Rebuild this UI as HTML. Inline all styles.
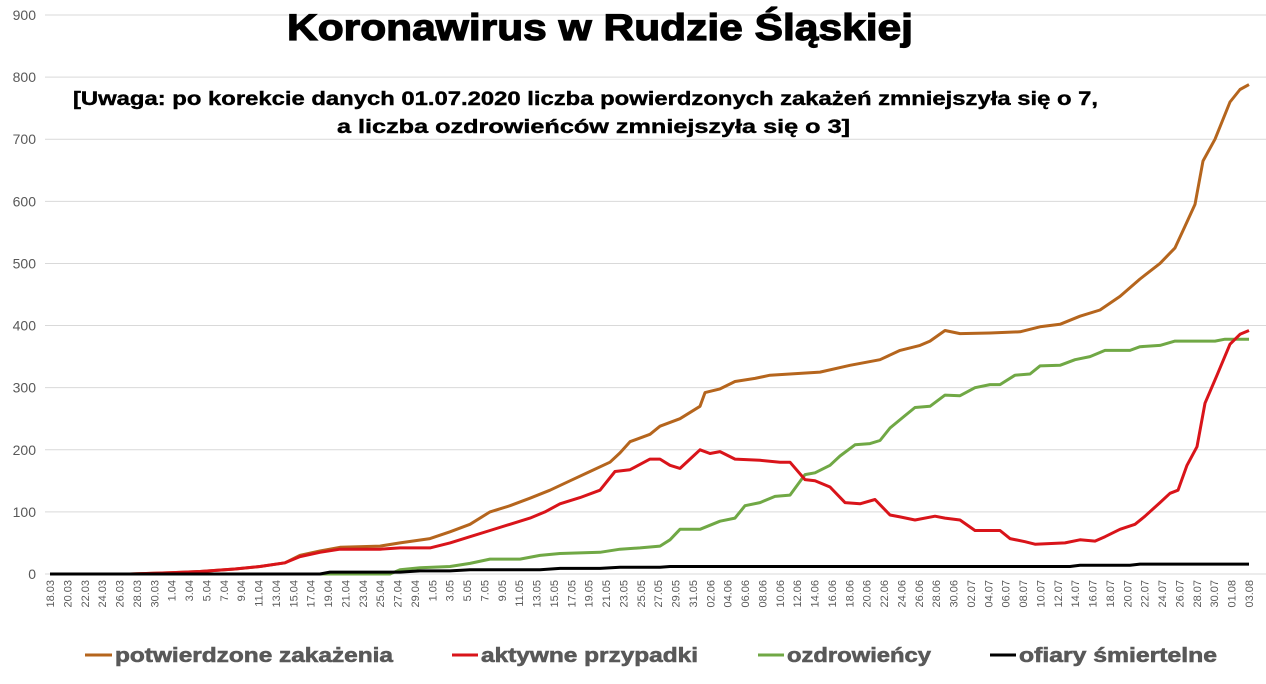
<!DOCTYPE html>
<html><head><meta charset="utf-8"><style>
body{margin:0;background:#fff;width:1266px;height:679px;overflow:hidden;font-family:"Liberation Sans",sans-serif}
</style></head><body>
<svg id="s" width="1266" height="679" xmlns="http://www.w3.org/2000/svg" font-family="Liberation Sans, sans-serif">
<g id="grid" stroke="#d9d9d9" stroke-width="1"></g>
<g id="ylab" fill="#595959" font-size="14" text-anchor="end"></g>
<g id="xlab" fill="#595959" font-size="11"></g>
<g id="lines" fill="none" stroke-width="3" stroke-linejoin="round"></g>
<text x="287" y="40" font-size="37" font-weight="bold" fill="#000" stroke="#000" stroke-width="1.2" textLength="626" lengthAdjust="spacingAndGlyphs">Koronawirus w Rudzie Śląskiej</text>
<text x="73" y="105" font-size="19" font-weight="bold" fill="#000" stroke="#000" stroke-width="0.4" textLength="1025" lengthAdjust="spacingAndGlyphs">[Uwaga: po korekcie danych 01.07.2020 liczba powierdzonych zakażeń zmniejszyła się o 7,</text>
<text x="337" y="133" font-size="19" font-weight="bold" fill="#000" stroke="#000" stroke-width="0.4" textLength="513" lengthAdjust="spacingAndGlyphs">a liczba ozdrowieńców zmniejszyła się o 3]</text>
<g font-size="20" font-weight="bold" fill="#595959" stroke="#595959" stroke-width="0.6">
<line x1="85" y1="655" x2="112" y2="655" stroke="#b5651d" stroke-width="3"/><text x="115" y="662" textLength="278" lengthAdjust="spacingAndGlyphs">potwierdzone zakażenia</text>
<line x1="452" y1="655" x2="478" y2="655" stroke="#d9141a" stroke-width="3"/><text x="481" y="662" textLength="217" lengthAdjust="spacingAndGlyphs">aktywne przypadki</text>
<line x1="758" y1="655" x2="784" y2="655" stroke="#70a845" stroke-width="3"/><text x="787" y="662" textLength="144" lengthAdjust="spacingAndGlyphs">ozdrowieńcy</text>
<line x1="990" y1="655" x2="1016" y2="655" stroke="#000" stroke-width="3"/><text x="1019" y="662" textLength="198" lengthAdjust="spacingAndGlyphs">ofiary śmiertelne</text>
</g>
</svg>
<script>
var NS="http://www.w3.org/2000/svg",s=document.getElementById('s');
function el(p,t,a,txt){var e=document.createElementNS(NS,t);for(var k in a)e.setAttribute(k,a[k]);if(txt)e.textContent=txt;document.getElementById(p).appendChild(e);return e;}
function Y(v){return 574-v*0.6211;}
for(var v=0;v<=900;v+=100){var y=Y(v);el('grid','line',{x1:45,x2:1266,y1:y,y2:y});el('ylab','text',{x:36,y:y+5},String(v));}
var months=[[3,31],[4,30],[5,31],[6,30],[7,31],[8,31]];var d=18,m=0,x0=50,dx=1199/138;
for(var i=0;i<=138;i++){if(i%2==0){var mm=months[m][0];var lab=((mm>=6||d>=10)?(d<10?'0'+d:d):d)+'.'+('0'+mm);var x=x0+i*dx;
el('xlab','text',{transform:'translate('+(x+4)+',580) rotate(-90)','text-anchor':'end'},lab);}
d++;if(d>months[m][1]){d=1;m++;}}
var P={
o:[[50,0],[130,0],[170,2],[200,4],[235,8],[260,12],[285,18],[300,30],[320,37],[340,43],[380,45],[400,50],[430,57],[450,68],[470,80],[490,100],[510,110],[530,122],[550,135],[570,150],[590,165],[610,180],[620,195],[630,213],[650,225],[660,238],[680,250],[700,270],[705,292],[720,298],[735,310],[755,315],[770,320],[790,322],[820,325],[850,336],[880,345],[900,360],[920,368],[930,375],[945,392],[960,387],[990,388],[1020,390],[1040,398],[1060,402],[1080,415],[1100,425],[1120,447],[1140,475],[1160,500],[1175,525],[1185,560],[1195,595],[1203,665],[1215,700],[1230,760],[1240,780],[1249,788]],
r:[[50,0],[130,0],[170,2],[200,4],[235,8],[260,12],[285,18],[300,28],[320,35],[340,40],[380,40],[400,42],[430,42],[450,50],[470,60],[490,70],[510,80],[530,90],[545,100],[560,113],[580,123],[600,135],[615,165],[630,168],[650,185],[660,185],[670,175],[680,170],[690,185],[700,200],[710,194],[720,197],[735,185],[760,183],[780,180],[790,180],[805,152],[815,150],[830,140],[845,115],[860,113],[875,120],[890,95],[900,92],[915,87],[935,93],[945,90],[960,87],[975,70],[1000,70],[1010,57],[1025,52],[1035,48],[1065,50],[1080,55],[1095,53],[1105,60],[1120,72],[1135,80],[1145,93],[1160,115],[1170,130],[1178,135],[1187,175],[1197,205],[1205,275],[1217,320],[1230,370],[1240,386],[1249,392]],
g:[[50,0],[390,0],[400,7],[420,10],[450,12],[470,17],[490,24],[520,24],[540,30],[560,33],[600,35],[620,40],[640,42],[660,45],[670,55],[680,72],[700,72],[720,85],[735,90],[745,110],[760,115],[775,125],[790,127],[805,160],[815,163],[830,175],[840,190],[855,208],[870,210],[880,215],[890,235],[905,255],[915,268],[930,270],[945,288],[960,287],[975,300],[990,305],[1000,305],[1015,320],[1030,322],[1040,335],[1060,336],[1075,345],[1090,350],[1105,360],[1130,360],[1140,366],[1160,368],[1175,375],[1215,375],[1225,378],[1249,378]],
k:[[50,0],[320,0],[330,3],[400,3],[420,5],[450,5],[470,7],[540,7],[560,9],[600,9],[620,11],[660,11],[670,12],[1070,12],[1080,14],[1130,14],[1140,16],[1249,16]]};
var C={g:'#70a845',o:'#b5651d',r:'#d9141a',k:'#000'};
['g','o','r','k'].forEach(function(k){el('lines','polyline',{stroke:C[k],points:P[k].map(function(p){return p[0]+','+Y(p[1]).toFixed(1)}).join(' ')});});
</script>
</body></html>
